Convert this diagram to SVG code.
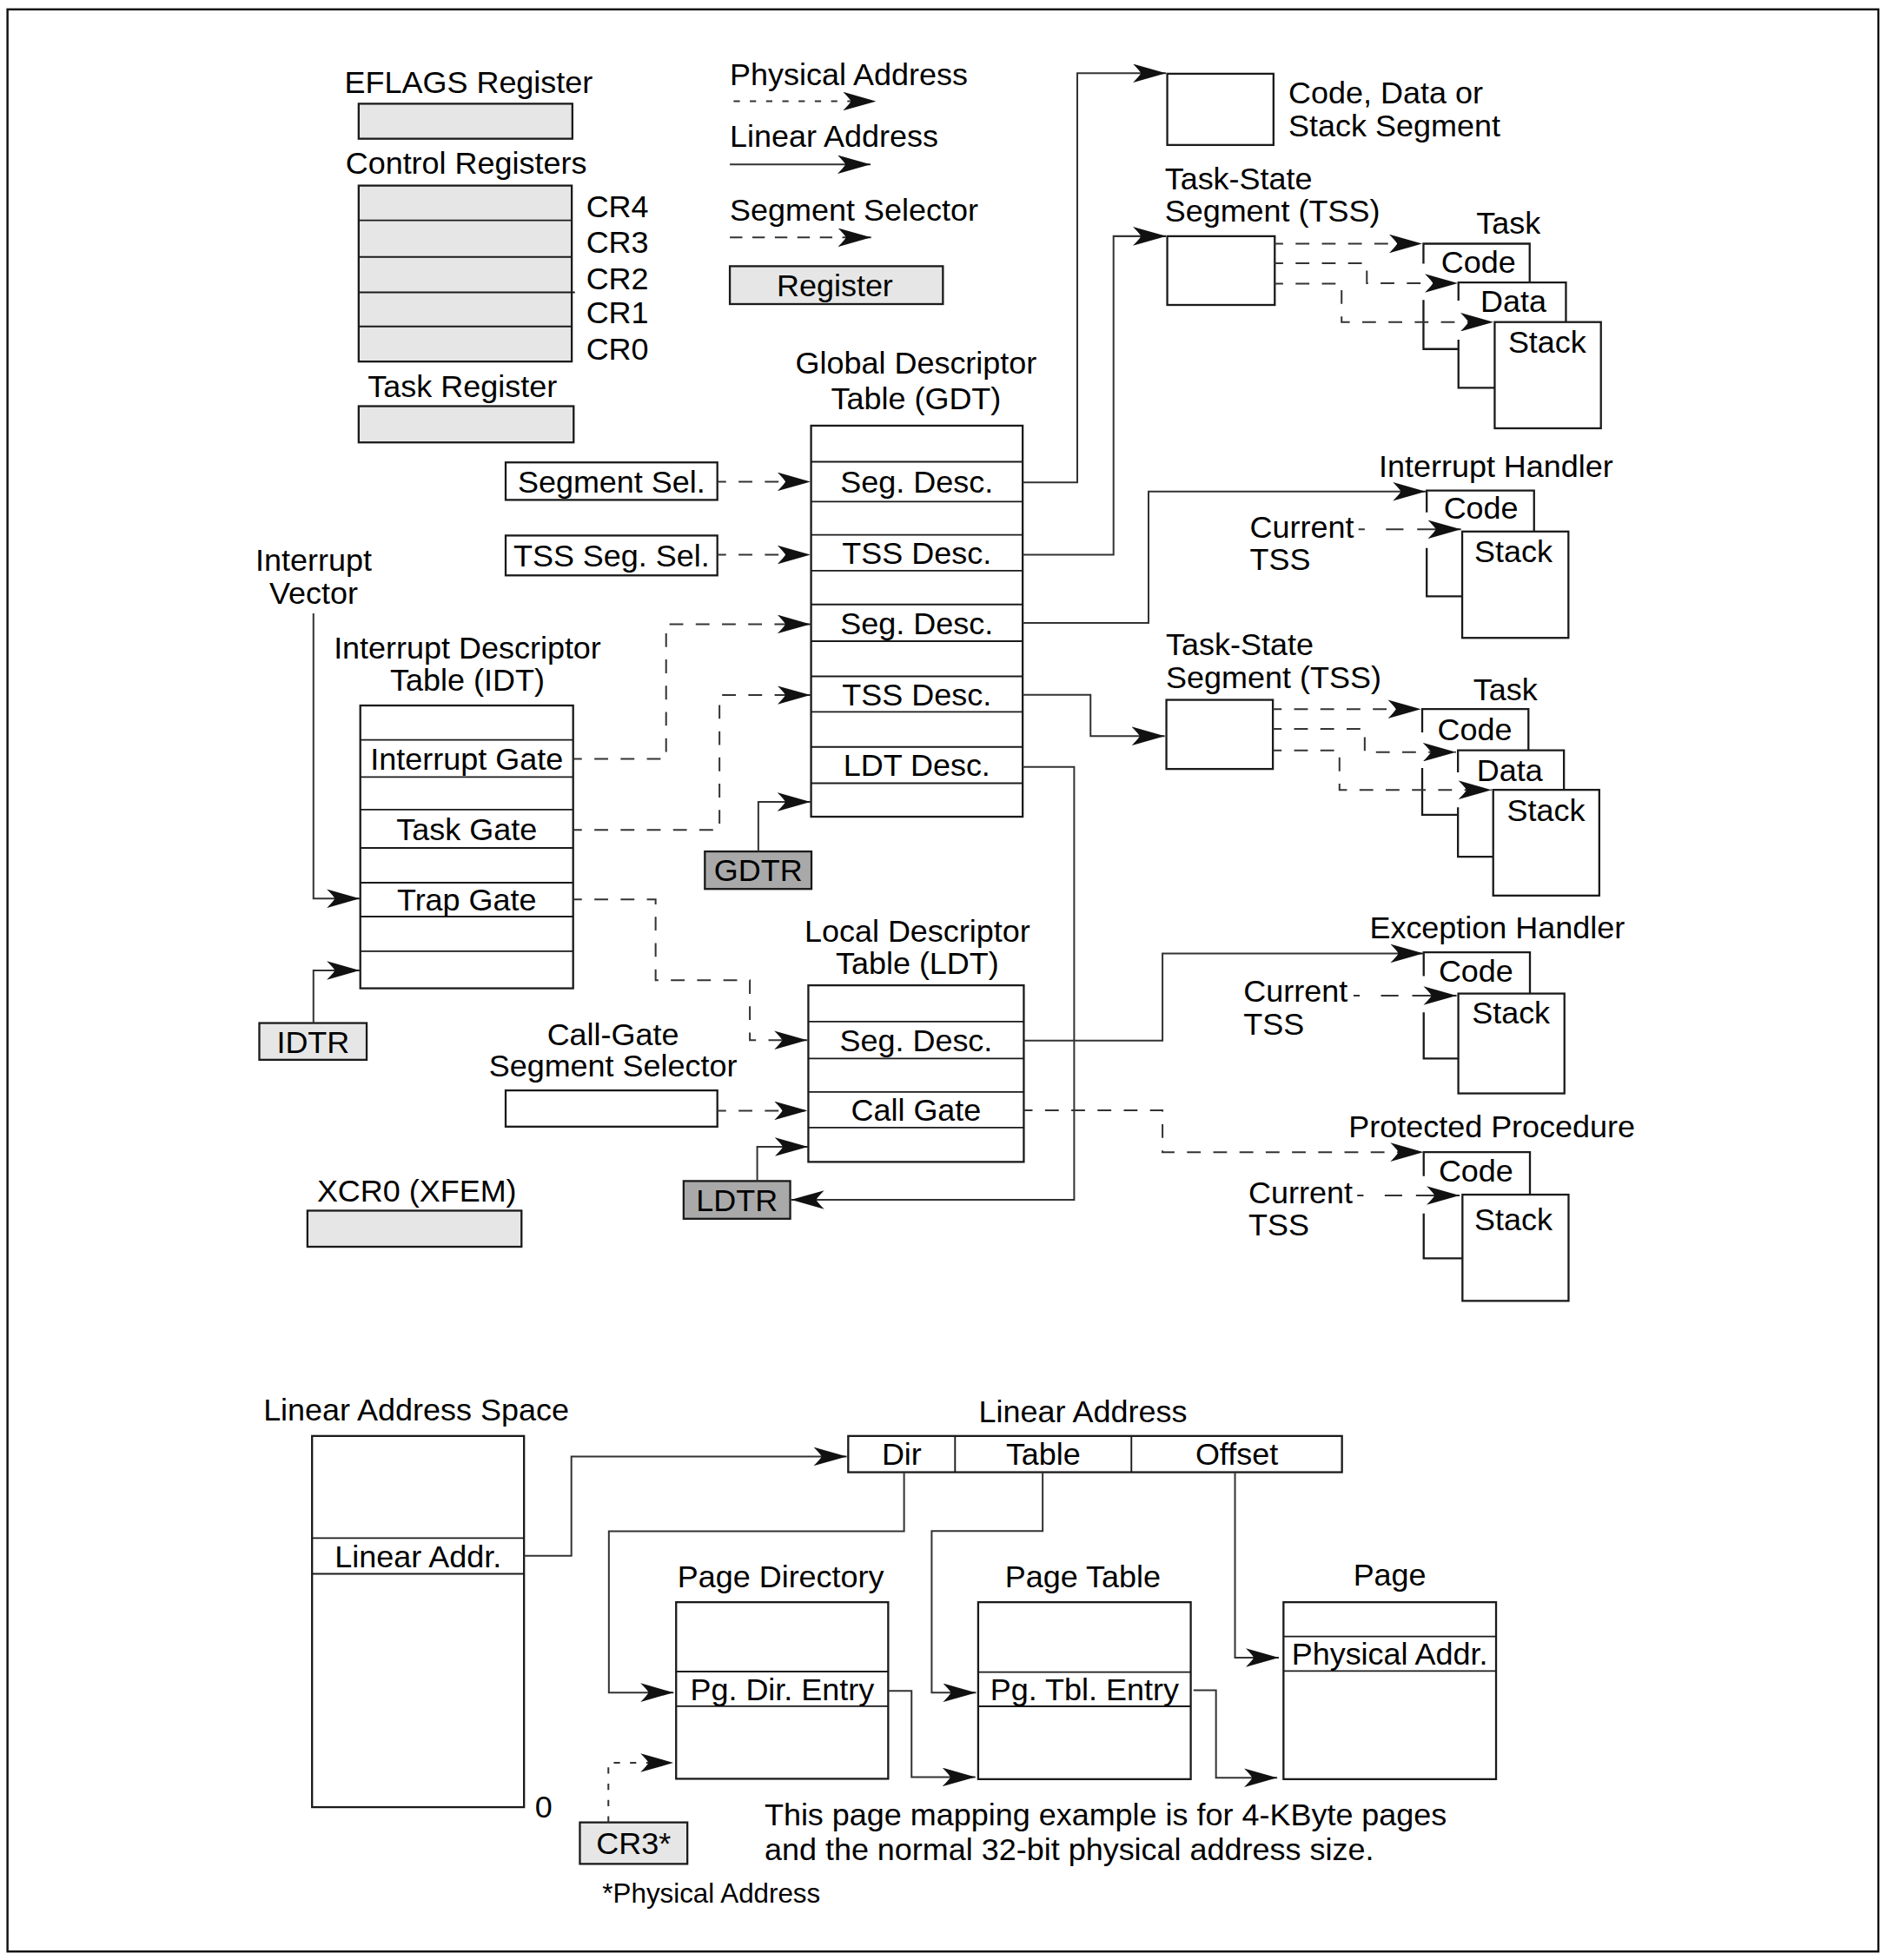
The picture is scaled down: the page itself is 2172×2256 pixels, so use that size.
<svg xmlns="http://www.w3.org/2000/svg" width="2172" height="2256" viewBox="0 0 2172 2256">
<defs>
<style>
.t{font-family:"Liberation Sans",Arial,Helvetica,sans-serif;font-size:25px;fill:#000}
.c{text-anchor:middle}
.sm{font-size:21.8px}
.box{fill:#fff;stroke:#1a1a1a;stroke-width:1.6}
.reg{fill:#e6e6e6;stroke:#1a1a1a;stroke-width:1.6}
.dreg{fill:#a9a9a9;stroke:#1a1a1a;stroke-width:1.6}
.row{stroke:#1a1a1a;stroke-width:1.3;fill:none}
.edge{fill:none;stroke:#1a1a1a;stroke-width:1.6}
.ln{fill:none;stroke:#333;stroke-width:1.4;marker-end:url(#ah)}
.sel{stroke-dasharray:11 10;stroke-dashoffset:4}
.phy{stroke-dasharray:5 8}
.cur{stroke-dasharray:5 17 14 11 60}
</style>
<marker id="ah" markerUnits="userSpaceOnUse" viewBox="0 0 26.5 15" markerWidth="26.5" markerHeight="15" refX="26.5" refY="7.5" orient="auto">
<path d="M0,0 L26.5,7.5 L0,15 Q5,10 6.5,7.5 Q5,5 0,0 Z" fill="#111"/>
</marker>
</defs>
<rect width="2172" height="2256" fill="#fff"/>
<g transform="scale(1.4385)">
<rect id="frame" x="6" y="7.5" width="1497" height="1554" fill="none" stroke="#111" stroke-width="1.7"/>

<!-- Legend / registers -->
<g id="eflags">
<text class="t c" x="375" y="74.5">EFLAGS Register</text>
<rect class="reg" x="287" y="83" width="171" height="28"/>
</g>
<g id="control-registers">
<text class="t c" x="373" y="139">Control Registers</text>
<rect class="reg" x="287" y="148.5" width="170.5" height="140.8"/>
<path class="row" d="M287,176.3H457.5M287,205.6H457.5M287,233.9H460M287,261.2H457.5"/>
<text class="t" x="469" y="173.5">CR4</text>
<text class="t" x="469" y="202.5">CR3</text>
<text class="t" x="469" y="231.5">CR2</text>
<text class="t" x="469" y="258.5">CR1</text>
<text class="t" x="469" y="287.5">CR0</text>
</g>
<g id="task-register">
<text class="t c" x="370" y="318">Task Register</text>
<rect class="reg" x="287" y="325" width="172" height="29"/>
</g>
<g id="legend">
<text class="t" x="584" y="68">Physical Address</text>
<path class="ln phy" d="M587,81H701"/>
<text class="t" x="584" y="117.5">Linear Address</text>
<path class="ln" d="M584,131.6H696.6"/>
<text class="t" x="584" y="176.5">Segment Selector</text>
<path class="ln" style="stroke-dasharray:10 8" d="M584,190H697"/>
<rect class="reg" x="584" y="213" width="170.5" height="30.3"/>
<text class="t c" x="668" y="237">Register</text>
</g>

<!-- Selectors -->
<g id="segment-sel">
<rect class="box" x="404.6" y="370" width="169.4" height="30"/>
<text class="t c" x="489.3" y="393.9">Segment Sel.</text>
</g>
<g id="tss-seg-sel">
<rect class="box" x="404.6" y="428.5" width="169.4" height="31.9"/>
<text class="t c" x="489.3" y="453.4">TSS Seg. Sel.</text>
</g>
<g id="interrupt-vector">
<text class="t c" x="251" y="457">Interrupt</text>
<text class="t c" x="251" y="483">Vector</text>
</g>

<!-- GDT -->
<g id="gdt">
<text class="t c" x="733" y="299.2">Global Descriptor</text>
<text class="t c" x="733" y="327.3">Table (GDT)</text>
<rect class="box" x="649" y="340.6" width="169.3" height="312.9"/>
<path class="row" d="M649,369.5H818.3M649,401.4H818.3M649,428H818.3M649,456.6H818.3M649,483.7H818.3M649,513H818.3M649,541.2H818.3M649,569.6H818.3M649,597.7H818.3M649,626.7H818.3"/>
<text class="t c" x="733.6" y="394.4">Seg. Desc.</text>
<text class="t c" x="733.6" y="451.2">TSS Desc.</text>
<text class="t c" x="733.6" y="507.3">Seg. Desc.</text>
<text class="t c" x="733.6" y="564.3">TSS Desc.</text>
<text class="t c" x="733.6" y="621.1">LDT Desc.</text>
</g>
<g id="gdtr">
<rect class="dreg" x="564" y="681.3" width="85.3" height="30"/>
<text class="t c" x="606.7" y="705.2">GDTR</text>
</g>

<!-- IDT -->
<g id="idt">
<text class="t c" x="374" y="526.9">Interrupt Descriptor</text>
<text class="t c" x="374" y="553">Table (IDT)</text>
<rect class="box" x="288.3" y="564.5" width="170.3" height="226.3"/>
<path class="row" d="M288.3,592H458.6M288.3,621.7H458.6M288.3,647.8H458.6M288.3,678.5H458.6M288.3,706.3H458.6M288.3,733.4H458.6M288.3,761.1H458.6"/>
<text class="t c" x="373.5" y="615.8">Interrupt Gate</text>
<text class="t c" x="373.5" y="672">Task Gate</text>
<text class="t c" x="373.5" y="728.8">Trap Gate</text>
</g>
<g id="idtr">
<rect class="reg" x="207.5" y="818.6" width="85.9" height="29.4"/>
<text class="t c" x="250.5" y="842.2">IDTR</text>
</g>

<!-- LDT -->
<g id="ldt">
<text class="t c" x="734" y="753.5">Local Descriptor</text>
<text class="t c" x="734" y="779">Table (LDT)</text>
<rect class="box" x="646.8" y="788.4" width="172.4" height="141.3"/>
<path class="row" d="M646.8,817.4H819.2M646.8,847H819.2M646.8,873.7H819.2M646.8,902.2H819.2"/>
<text class="t c" x="733" y="841">Seg. Desc.</text>
<text class="t c" x="733" y="896.9">Call Gate</text>
</g>
<g id="call-gate-selector">
<text class="t c" x="490.5" y="836">Call-Gate</text>
<text class="t c" x="490.5" y="861.6">Segment Selector</text>
<rect class="box" x="404.6" y="872.5" width="169.4" height="29"/>
</g>
<g id="ldtr">
<rect class="dreg" x="547" y="945" width="85.3" height="30.2"/>
<text class="t c" x="589.7" y="969">LDTR</text>
</g>
<g id="xcr0">
<text class="t c" x="333.5" y="961.3">XCR0 (XFEM)</text>
<rect class="reg" x="246" y="968.7" width="171.3" height="28.9"/>
</g>

<!-- Right side segments -->
<g id="code-data-stack-segment">
<rect class="box" x="934" y="59" width="85" height="57"/>
<text class="t" x="1031" y="82.5">Code, Data or</text>
<text class="t" x="1031" y="109">Stack Segment</text>
</g>
<g id="tss1">
<text class="t" x="932" y="151.5">Task-State</text>
<text class="t" x="932" y="177.5">Segment (TSS)</text>
<rect class="box" x="934" y="189" width="86" height="55"/>
</g>
<g id="task1">
<text class="t c" x="1207" y="187">Task</text>
<path class="edge" d="M1139,211V195H1224V226M1139,240V279.3H1167"/>
<path class="edge" d="M1167,240.6V226H1253V257.7M1167,271.8V310.3H1196"/>
<rect class="box" x="1196" y="257.7" width="85" height="85"/>
<text class="t c" x="1183" y="218.4">Code</text>
<text class="t c" x="1211" y="249.6">Data</text>
<text class="t c" x="1238" y="282.4">Stack</text>
</g>
<g id="interrupt-handler">
<text class="t c" x="1197" y="381.9">Interrupt Handler</text>
<path class="edge" d="M1141.6,410V392.5H1227.5V425.3M1141.6,438.5V477.2H1170"/>
<rect class="box" x="1170" y="425.3" width="85" height="85.1"/>
<text class="t c" x="1185" y="415">Code</text>
<text class="t c" x="1211" y="449.7">Stack</text>
<text class="t" x="1000" y="430.5">Current</text>
<text class="t" x="1000" y="456">TSS</text>
</g>
<g id="tss2">
<text class="t" x="933" y="524.5">Task-State</text>
<text class="t" x="933" y="550.5">Segment (TSS)</text>
<rect class="box" x="933.3" y="560" width="85.2" height="55.3"/>
</g>
<g id="task2">
<text class="t c" x="1204.5" y="560.5">Task</text>
<path class="edge" d="M1138,586V567.4H1223V600.4M1138,614.6V652H1166.6"/>
<path class="edge" d="M1166.6,618V600.4H1251.4V632M1166.6,646V685.5H1194.8"/>
<rect class="box" x="1194.8" y="632" width="84.9" height="84.6"/>
<text class="t c" x="1180" y="592.4">Code</text>
<text class="t c" x="1208" y="624.7">Data</text>
<text class="t c" x="1237" y="657">Stack</text>
</g>
<g id="exception-handler">
<text class="t c" x="1198" y="750.9">Exception Handler</text>
<path class="edge" d="M1139.2,781V762H1224.2V795M1139.2,810V847H1166.9"/>
<rect class="box" x="1166.9" y="795" width="84.9" height="79.9"/>
<text class="t c" x="1181" y="785.6">Code</text>
<text class="t c" x="1209" y="819.2">Stack</text>
<text class="t" x="995" y="801.8">Current</text>
<text class="t" x="995" y="828">TSS</text>
</g>
<g id="protected-procedure">
<text class="t c" x="1193.7" y="910.2">Protected Procedure</text>
<path class="edge" d="M1139.2,941V921.9H1224.2V955.9M1139.2,971V1006.9H1170.2"/>
<rect class="box" x="1170.2" y="955.9" width="84.9" height="85"/>
<text class="t c" x="1181" y="945.5">Code</text>
<text class="t c" x="1211" y="984.4">Stack</text>
<text class="t" x="999" y="962.9">Current</text>
<text class="t" x="999" y="988.4">TSS</text>
</g>

<!-- Paging -->
<g id="linear-address-space">
<text class="t c" x="333" y="1136.7">Linear Address Space</text>
<rect class="box" x="249.7" y="1149" width="169.6" height="297"/>
<path class="row" d="M249.7,1230.7H419.3M249.7,1259.3H419.3"/>
<text class="t c" x="334.5" y="1253.9">Linear Addr.</text>
<text class="t" x="428" y="1454.4">0</text>
</g>
<g id="linear-address">
<text class="t c" x="866.5" y="1138.3">Linear Address</text>
<rect class="box" x="678.7" y="1149" width="395.1" height="29"/>
<path class="row" d="M764.2,1149V1178M905.3,1149V1178"/>
<text class="t c" x="721.5" y="1172.4">Dir</text>
<text class="t c" x="834.8" y="1172.4">Table</text>
<text class="t c" x="989.6" y="1172.4">Offset</text>
</g>
<g id="page-directory">
<text class="t c" x="624.7" y="1270">Page Directory</text>
<rect class="box" x="541" y="1282" width="169.7" height="141.3"/>
<path class="row" d="M541,1337.5H710.7M541,1365.2H710.7"/>
<text class="t c" x="625.9" y="1360.2">Pg. Dir. Entry</text>
</g>
<g id="page-table">
<text class="t c" x="866.5" y="1270">Page Table</text>
<rect class="box" x="782.7" y="1282" width="170.1" height="141.6"/>
<path class="row" d="M782.7,1337.9H952.8M782.7,1365.3H952.8"/>
<text class="t c" x="867.8" y="1360.5">Pg. Tbl. Entry</text>
</g>
<g id="page">
<text class="t c" x="1112" y="1268.7">Page</text>
<rect class="box" x="1027" y="1282" width="170.1" height="141.6"/>
<path class="row" d="M1027,1309.4H1197.1M1027,1337.1H1197.1"/>
<text class="t c" x="1112" y="1332.1">Physical Addr.</text>
</g>
<g id="cr3">
<rect class="reg" x="464" y="1458.2" width="86" height="33.2"/>
<text class="t c" x="507" y="1483.7">CR3*</text>
<text class="t sm" x="482" y="1522.6">*Physical Address</text>
</g>
<g id="note">
<text class="t" x="611.7" y="1460.3">This page mapping example is for 4-KByte pages</text>
<text class="t" x="611.7" y="1488.2">and the normal 32-bit physical address size.</text>
</g>

<!-- Connectors -->
<g id="connectors">
<path class="ln" d="M818.3,386H862V58.6H933"/>
<path class="ln" d="M818.3,443.9H891V189H933"/>
<path class="ln" d="M818.3,498.5H919V393.3H1141"/>
<path class="ln" d="M818.3,556H872.6V589H932"/>
<path class="ln" d="M818.3,613.7H859.5V960H633"/>
<path class="ln" d="M606.8,681.3V641.7H648.5"/>
<path class="ln" d="M250.8,818.6V776.5H288"/>
<path class="ln" d="M250.8,490.8V719H288"/>
<path class="ln" d="M605.9,945V917.7H646.5"/>
<path class="ln" d="M819.2,832.7H930.2V762.9H1139"/>

<path class="ln sel" d="M574,385.4H648.5"/>
<path class="ln sel" d="M574,443.9H648.5"/>
<path class="ln sel" d="M458.6,607.3H533V499.4H648.5"/>
<path class="ln sel" d="M458.6,664H575.7V556.2H648.5"/>
<path class="ln sel" d="M458.6,719.6H524.6V784.4H600V832.3H646"/>
<path class="ln sel" d="M574,888.7H646"/>
<path class="ln sel" d="M819.2,888.5H930.2V921.9H1139"/>

<path class="ln sel" d="M1019.7,195H1138"/>
<path class="ln sel" d="M1019.7,210.6H1093.7V226.6H1166.6"/>
<path class="ln sel" d="M1019.7,227H1073.5V257.7H1195"/>
<path class="ln sel" d="M1018.5,567.4H1137"/>
<path class="ln sel" d="M1018.5,583.3H1092V601.8H1165"/>
<path class="ln sel" d="M1018.5,600.4H1071.8V632.1H1193.5"/>

<path class="ln cur" d="M1087,423.6H1169"/>
<path class="ln cur" d="M1083,796.7H1165.5"/>
<path class="ln cur" d="M1086,956.6H1168"/>

<path class="ln" d="M419.3,1244.8H457.2V1165.4H677.5"/>
<path class="ln" d="M723.4,1178.5V1225.2H487.2V1354.3H539"/>
<path class="ln phy" d="M486.8,1458.2V1410.5H539"/>
<path class="ln" d="M710.7,1352.9H729.4V1421.9H780.5"/>
<path class="ln" d="M834.3,1178.5V1225H745.5V1354.4H781"/>
<path class="ln" d="M955,1352.5H973V1422.5H1022"/>
<path class="ln" d="M988.2,1178.5V1326.4H1023.3"/>
</g>
</g>
</svg>
